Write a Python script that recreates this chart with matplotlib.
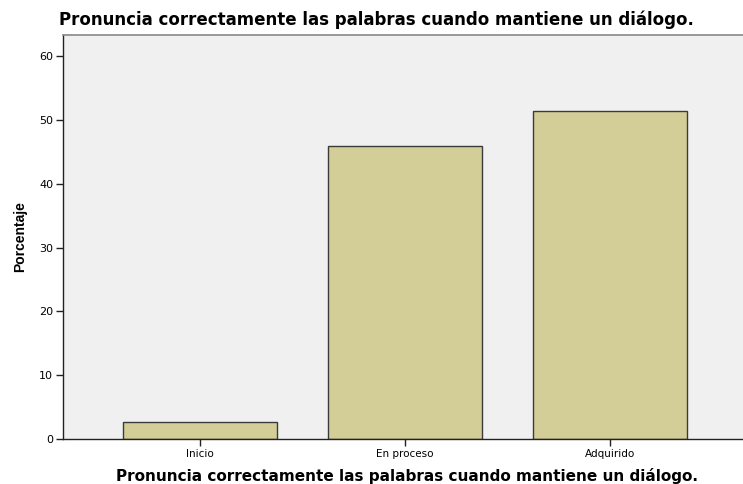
import matplotlib
matplotlib.use("Agg")
import matplotlib.pyplot as plt

categories = ["Inicio", "En proceso", "Adquirido"]
values = [2.7, 45.9, 51.4]
yticks = [0, 10, 20, 30, 40, 50, 60]
title = "Pronuncia correctamente las palabras cuando mantiene un diálogo."

plt.rcParams['font.family'] = ['Liberation Sans', 'DejaVu Sans']

fig = plt.figure(figsize=(7.43, 4.84), dpi=100)
ax = fig.add_axes([63/743, 45/484, 1 - 63/743, (439-35)/484])
ax.set_facecolor("#F0F0F0")
x = list(range(len(categories)))
ax.bar(x, values, width=0.75, color="#D3CE97", edgecolor="#3a3a3a", linewidth=1.0, zorder=2)
ax.set_xlim(-0.67, 2.65)
ax.set_ylim(0, 63.3)
ax.set_yticks(yticks)
ax.set_yticklabels([str(v) for v in yticks], fontsize=8, family=['DejaVu Sans'])
ax.set_xticks(x)
ax.set_xticklabels(categories, fontsize=7.5, family=['DejaVu Sans'])
ax.tick_params(axis='both', length=5, width=1, color="#222222", pad=2)
for s in ["left", "bottom"]:
    ax.spines[s].set_color("#222222")
    ax.spines[s].set_linewidth(1)
ax.spines["top"].set_color("#888888")
ax.spines["top"].set_linewidth(1.2)
ax.spines["right"].set_visible(False)
ax.set_ylabel("Porcentaje", fontsize=10, fontweight="bold", labelpad=9)
fig.text(407/743, 1 - 476/484, title, ha="center", va="center", fontsize=11,
         fontweight="bold", family=['DejaVu Sans'])
fig.text(376/743, 1 - 20/484, title, ha="center", va="center", fontsize=12,
         fontweight="bold", family=['DejaVu Sans'])
fig.savefig("out.png", dpi=100)
